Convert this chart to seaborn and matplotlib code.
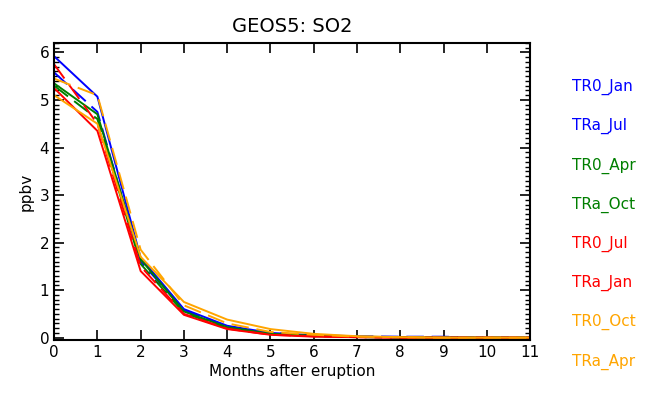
import numpy as np
import pandas as pd
from matplotlib import pyplot as plt
from matplotlib.ticker import MultipleLocator
import seaborn as sns

sns.set_style("ticks")
plt.rcParams['font.family'] = ['DejaVu Sans']
plt.rcParams['text.color'] = 'black'
plt.rcParams['axes.labelcolor'] = 'black'
plt.rcParams['xtick.color'] = 'black'
plt.rcParams['ytick.color'] = 'black'

# months after eruption
months = list(range(12))

# SO2 (ppbv) per run
tr0_jan = [5.92, 5.07, 1.68, 0.60, 0.25, 0.10, 0.05, 0.02, 0.01, 0.01, 0.0, 0.0]
tra_jul = [5.58, 4.75, 1.60, 0.58, 0.22, 0.10, 0.05, 0.03, 0.02, 0.02, 0.0, 0.0]
tr0_apr = [5.35, 4.70, 1.65, 0.55, 0.22, 0.08, 0.04, 0.02, 0.01, 0.0, 0.0, 0.0]
tra_oct = [5.30, 4.60, 1.55, 0.52, 0.20, 0.07, 0.03, 0.01, 0.0, 0.0, 0.0, 0.0]
tr0_jul = [5.25, 4.35, 1.40, 0.48, 0.18, 0.06, 0.02, 0.01, 0.0, 0.0, 0.0, 0.0]
tra_jan = [5.75, 4.50, 1.50, 0.50, 0.19, 0.06, 0.03, 0.01, 0.0, 0.0, 0.0, 0.0]
tr0_oct = [5.10, 4.50, 1.70, 0.75, 0.38, 0.18, 0.08, 0.03, 0.01, 0.0, 0.0, 0.0]
tra_apr = [5.45, 5.10, 1.85, 0.68, 0.30, 0.12, 0.06, 0.02, 0.01, 0.0, 0.0, 0.0]

runs = ["TR0_Jan", "TRa_Jul", "TR0_Apr", "TRa_Oct", "TR0_Jul", "TRa_Jan", "TR0_Oct", "TRa_Apr"]
values = [tr0_jan, tra_jul, tr0_apr, tra_oct, tr0_jul, tra_jan, tr0_oct, tra_apr]
colors = ["#0000ff", "#0000ff", "#007f00", "#007f00", "#ff0000", "#ff0000", "#ffa500", "#ffa500"]

rows = []
for name, vals in zip(runs, values):
    for m, v in zip(months, vals):
        rows.append({"month": m, "so2": v, "run": name})
df = pd.DataFrame(rows)

fig = plt.figure(figsize=(6.52, 3.94), dpi=100)
ax = fig.add_axes([0.083, 0.137, 0.730, 0.754])

dash_map = {r: ("" if r.startswith("TR0") else (9, 4)) for r in runs}
sns.lineplot(data=df, x="month", y="so2", hue="run", style="run",
             hue_order=runs, style_order=runs,
             palette=dict(zip(runs, colors)), dashes=dash_map,
             linewidth=1.4, legend=False, ax=ax)

ax.set_xlim(0, 11)
ax.set_ylim(-0.05, 6.2)
ax.xaxis.set_major_locator(MultipleLocator(1))
ax.yaxis.set_major_locator(MultipleLocator(1))
ax.yaxis.set_minor_locator(MultipleLocator(0.1))
ax.tick_params(which="both", direction="in", top=True, right=True, labelsize=11)
ax.tick_params(which="major", length=7, width=1.2)
ax.tick_params(which="minor", length=3.5, width=1)
for s in ax.spines.values():
    s.set_linewidth(1.5)
    s.set_color("black")

ax.set_title("GEOS5: SO2", fontsize=14, pad=8)
ax.set_xlabel("Months after eruption", fontsize=11, labelpad=3)
ax.set_ylabel("ppbv", fontsize=11)

for i, (name, c) in enumerate(zip(runs, colors)):
    fig.text(0.877, 1 - (87 + i * 39.2) / 394, name, color=c, fontsize=11, va="center")

fig.savefig("out.png", dpi=100)
